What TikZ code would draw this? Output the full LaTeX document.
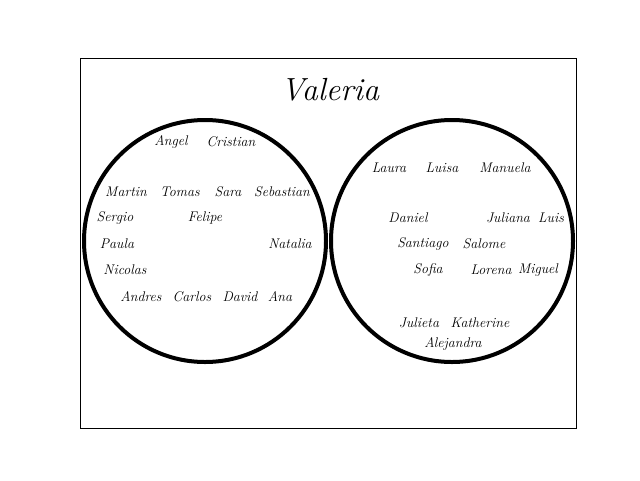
\documentclass[tikz,border=0pt]{standalone}
\begin{document}
\begin{tikzpicture}[x=1pt,y=-1pt,
  nm/.style={font=\itshape\fontsize{14}{16}\selectfont, inner sep=0pt},
  ring/.style={line width=4pt},
  frame/.style={line width=0.8pt}]
\useasboundingbox (0,0) rectangle (640,480);
\node[frame, draw, minimum width=496pt, minimum height=370pt, inner sep=0pt] (box) at (328,243) {};
\node[font=\itshape\fontsize{32}{36}\selectfont] (title) at (330,90) {Valeria};
\node[ring, draw, circle, minimum size=242pt, inner sep=0pt] (L) at (205,241) {};
\node[ring, draw, circle, minimum size=242pt, inner sep=0pt] (R) at (452,241) {};
% left
\node[nm] (angel) at (171,142) {Angel};
\node[nm] (cristian) at (231,142) {Cristian};
\node[nm] (martin) at (126,192) {Martin};
\node[nm] (tomas) at (180,192) {Tomas};
\node[nm] (sara) at (228,192) {Sara};
\node[nm] (sebastian) at (282,192) {Sebastian};
\node[nm] (sergio) at (115,218) {Sergio};
\node[nm] (felipe) at (205,218) {Felipe};
\node[nm] (paula) at (117,244) {Paula};
\node[nm] (natalia) at (290,244) {Natalia};
\node[nm] (nicolas) at (125,270) {Nicolas};
\node[nm] (andres) at (141,297) {Andres};
\node[nm] (carlos) at (192,297) {Carlos};
\node[nm] (david) at (240,297) {David};
\node[nm] (ana) at (280,297) {Ana};
% right
\node[nm] (laura) at (389,168) {Laura};
\node[nm] (luisa) at (442,168) {Luisa};
\node[nm] (manuela) at (505,168) {Manuela};
\node[nm] (daniel) at (408,218) {Daniel};
\node[nm] (juliana) at (508,218) {Juliana};
\node[nm] (luis) at (551,218) {Luis};
\node[nm] (santiago) at (423,244) {Santiago};
\node[nm] (salome) at (484,244) {Salome};
\node[nm] (sofia) at (428,270) {Sofia};
\node[nm] (lorena) at (491,270) {Lorena};
\node[nm] (miguel) at (538,270) {Miguel};
\node[nm] (julieta) at (419,323) {Julieta};
\node[nm] (katherine) at (480,323) {Katherine};
\node[nm] (alejandra) at (453,344) {Alejandra};
\end{tikzpicture}
\end{document}
